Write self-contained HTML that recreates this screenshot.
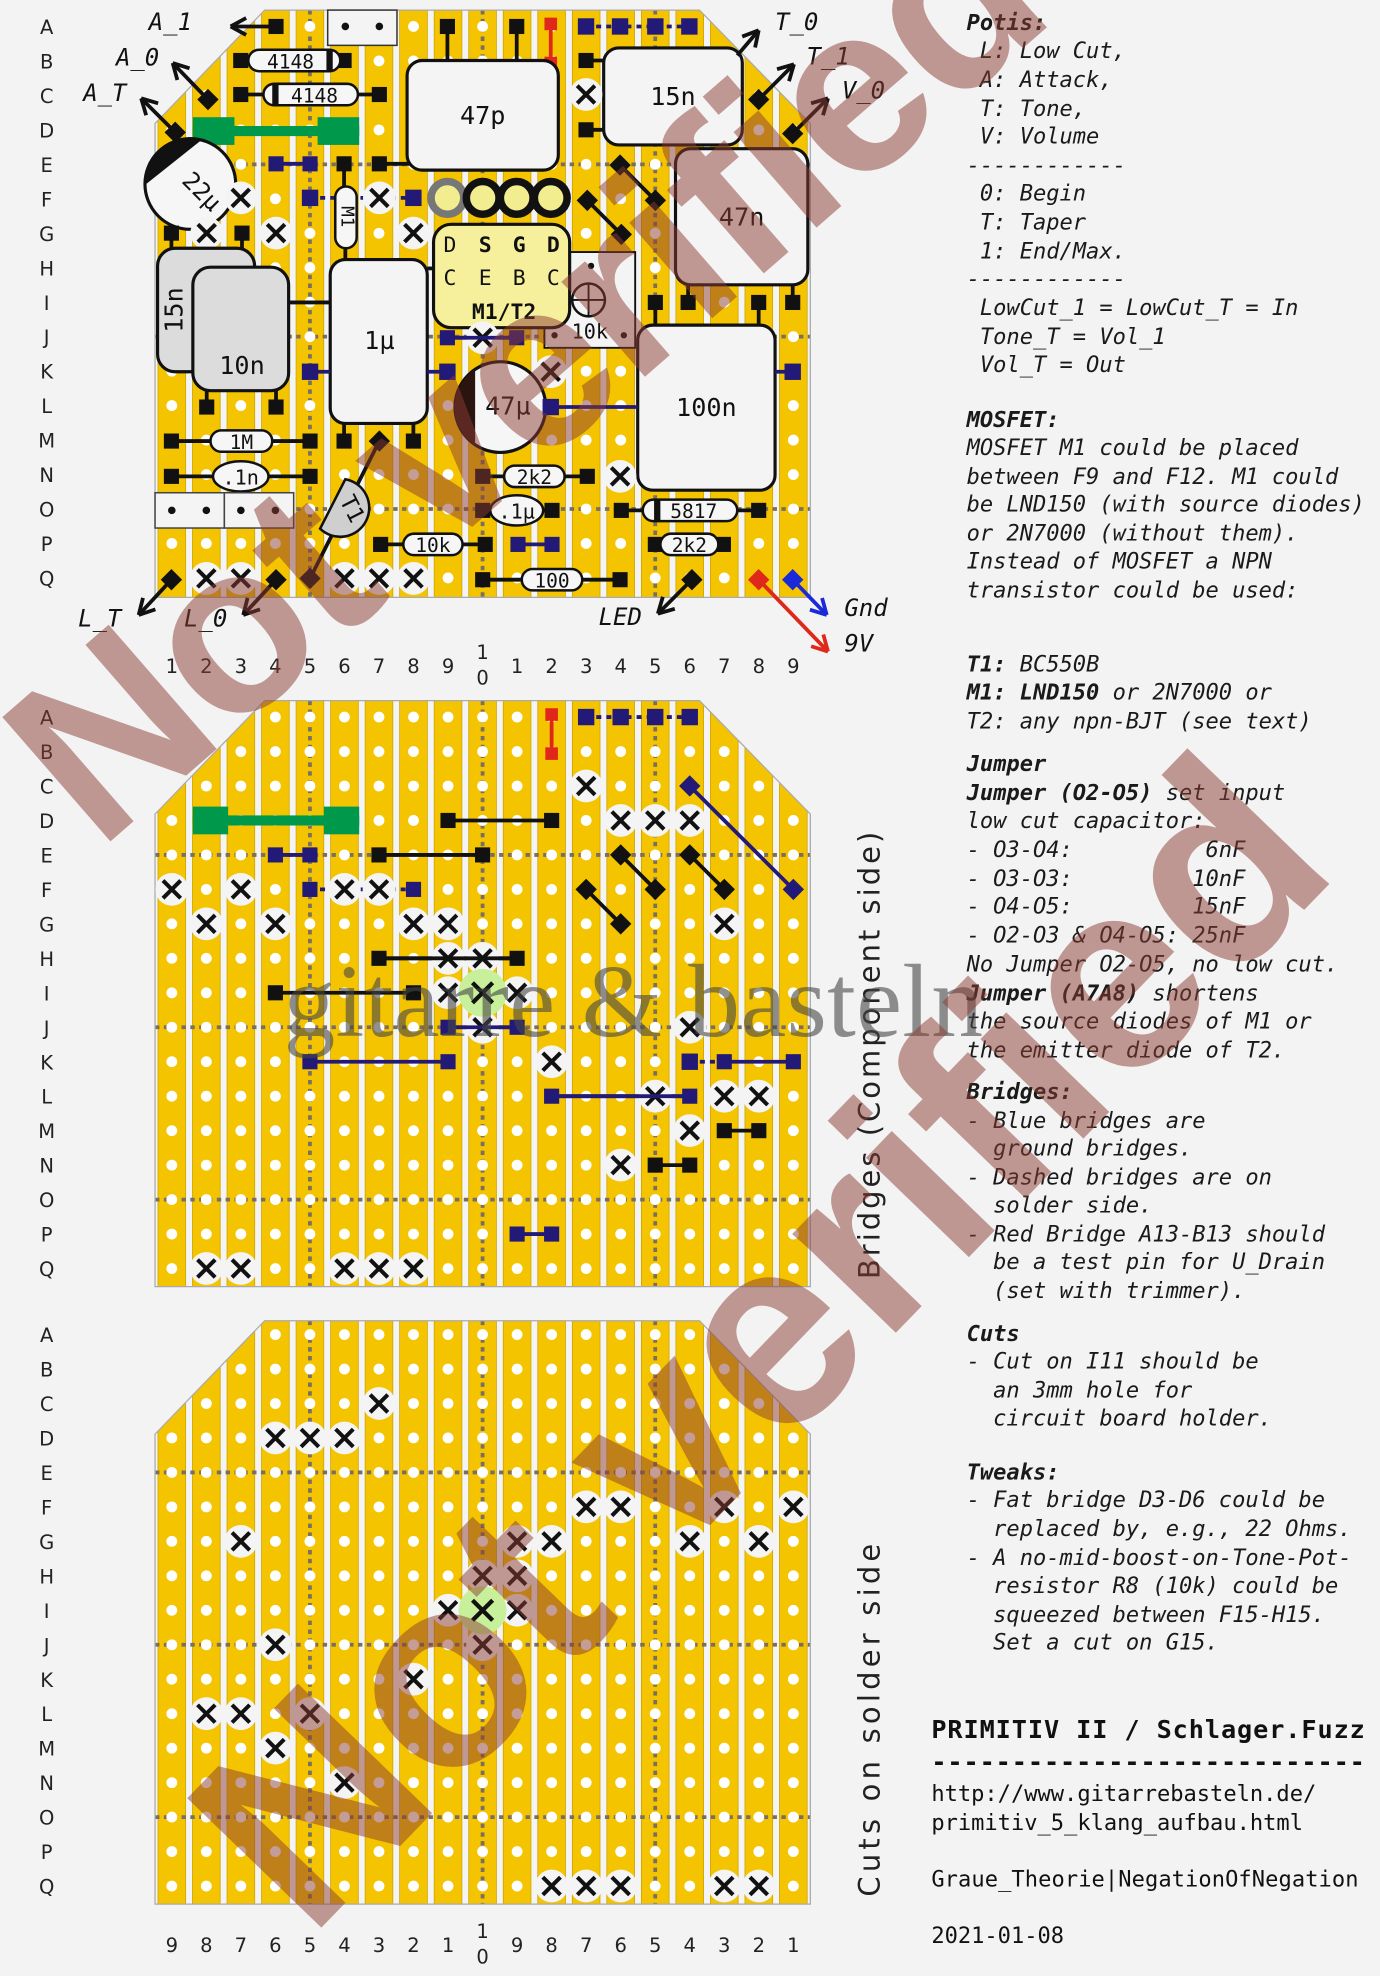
<!DOCTYPE html>
<html><head><meta charset="utf-8"><style>
html,body{margin:0;padding:0;background:#f3f3f3;width:1380px;height:1976px;overflow:hidden;}
svg{display:block;overflow:hidden;}
.t{font-family:"DejaVu Sans Mono","Liberation Mono",monospace;font-style:italic;font-size:17.5px;fill:#1a1a1a;white-space:pre;}
.tb{font-weight:bold;}
.lab{font-family:"DejaVu Sans","Liberation Sans",sans-serif;font-size:15.5px;fill:#222;}
.cl{font-family:"DejaVu Sans Mono","Liberation Mono",monospace;fill:#111;text-anchor:middle;dominant-baseline:central;}
.io{font-family:"DejaVu Sans Mono","Liberation Mono",monospace;font-style:italic;font-size:19px;fill:#111;}
</style></head><body>
<svg id="s" xmlns="http://www.w3.org/2000/svg" width="1380" height="1976" viewBox="0 0 1095 1568">
<defs><clipPath id="page"><rect x="0" y="0" width="1095" height="1568"/></clipPath></defs>
<rect width="1095" height="1568" fill="#f3f3f3"/>
<g id="boards"></g>
<g id="comp"></g>
<g id="txt">
<text class="t" x="767" y="24"><tspan class="tb">Potis:</tspan></text>
<text class="t" x="767" y="46" xml:space="preserve"> L: Low Cut,</text>
<text class="t" x="767" y="69" xml:space="preserve"> A: Attack,</text>
<text class="t" x="767" y="92" xml:space="preserve"> T: Tone,</text>
<text class="t" x="767" y="114" xml:space="preserve"> V: Volume</text>
<text class="t" x="767" y="137">------------</text>
<text class="t" x="767" y="159" xml:space="preserve"> 0: Begin</text>
<text class="t" x="767" y="182" xml:space="preserve"> T: Taper</text>
<text class="t" x="767" y="205" xml:space="preserve"> 1: End/Max.</text>
<text class="t" x="767" y="227">------------</text>
<text class="t" x="767" y="250" xml:space="preserve"> LowCut_1 = LowCut_T = In</text>
<text class="t" x="767" y="273" xml:space="preserve"> Tone_T = Vol_1</text>
<text class="t" x="767" y="295" xml:space="preserve"> Vol_T = Out</text>
<text class="t tb" x="767" y="339">MOSFET:</text>
<text class="t" x="767" y="361">MOSFET M1 could be placed</text>
<text class="t" x="767" y="384">between F9 and F12. M1 could</text>
<text class="t" x="767" y="406">be LND150 (with source diodes)</text>
<text class="t" x="767" y="429">or 2N7000 (without them).</text>
<text class="t" x="767" y="451">Instead of MOSFET a NPN</text>
<text class="t" x="767" y="474">transistor could be used:</text>
<text class="t" x="767" y="533" xml:space="preserve"><tspan class="tb">T1:</tspan> BC550B</text>
<text class="t" x="767" y="555" xml:space="preserve"><tspan class="tb">M1: LND150</tspan> or 2N7000 or</text>
<text class="t" x="767" y="578">T2: any npn-BJT (see text)</text>
<text class="t tb" x="767" y="612">Jumper</text>
<text class="t" x="767" y="635" xml:space="preserve"><tspan class="tb">Jumper (O2-O5)</tspan> set input</text>
<text class="t" x="767" y="657">low cut capacitor:</text>
<text class="t" x="767" y="680" xml:space="preserve">- O3-O4:          6nF</text>
<text class="t" x="767" y="703" xml:space="preserve">- O3-O3:         10nF</text>
<text class="t" x="767" y="725" xml:space="preserve">- O4-O5:         15nF</text>
<text class="t" x="767" y="748" xml:space="preserve">- O2-O3 &amp; O4-O5: 25nF</text>
<text class="t" x="767" y="771">No Jumper O2-O5, no low cut.</text>
<text class="t" x="767" y="794" xml:space="preserve"><tspan class="tb">Jumper (A7A8)</tspan> shortens</text>
<text class="t" x="767" y="816">the source diodes of M1 or</text>
<text class="t" x="767" y="839">the emitter diode of T2.</text>
<text class="t tb" x="767" y="872">Bridges:</text>
<text class="t" x="767" y="895">- Blue bridges are</text>
<text class="t" x="767" y="917" xml:space="preserve">  ground bridges.</text>
<text class="t" x="767" y="940">- Dashed bridges are on</text>
<text class="t" x="767" y="962" xml:space="preserve">  solder side.</text>
<text class="t" x="767" y="985">- Red Bridge A13-B13 should</text>
<text class="t" x="767" y="1007" xml:space="preserve">  be a test pin for U_Drain</text>
<text class="t" x="767" y="1030" xml:space="preserve">  (set with trimmer).</text>
<text class="t tb" x="767" y="1064">Cuts</text>
<text class="t" x="767" y="1086">- Cut on I11 should be</text>
<text class="t" x="767" y="1109" xml:space="preserve">  an 3mm hole for</text>
<text class="t" x="767" y="1131" xml:space="preserve">  circuit board holder.</text>
<text class="t tb" x="767" y="1174">Tweaks:</text>
<text class="t" x="767" y="1196">- Fat bridge D3-D6 could be</text>
<text class="t" x="767" y="1219" xml:space="preserve">  replaced by, e.g., 22 Ohms.</text>
<text class="t" x="767" y="1242">- A no-mid-boost-on-Tone-Pot-</text>
<text class="t" x="767" y="1264" xml:space="preserve">  resistor R8 (10k) could be</text>
<text class="t" x="767" y="1287" xml:space="preserve">  squeezed between F15-H15.</text>
<text class="t" x="767" y="1309" xml:space="preserve">  Set a cut on G15.</text>
<text x="739" y="1379" style="font-family:'DejaVu Sans Mono','Liberation Mono',monospace;font-weight:bold;font-size:20px;fill:#111" textLength="344">PRIMITIV II / Schlager.Fuzz</text>
<text x="739" y="1405" style="font-family:'DejaVu Sans Mono','Liberation Mono',monospace;font-weight:bold;font-size:20px;fill:#111" textLength="344">---------------------------</text>
<text x="739" y="1429" style="font-family:'DejaVu Sans Mono','Liberation Mono',monospace;font-size:17.5px;fill:#111">http://www.gitarrebasteln.de/</text>
<text x="739" y="1452" style="font-family:'DejaVu Sans Mono','Liberation Mono',monospace;font-size:17.5px;fill:#111">primitiv_5_klang_aufbau.html</text>
<text x="739" y="1497" style="font-family:'DejaVu Sans Mono','Liberation Mono',monospace;font-size:17.5px;fill:#111" textLength="339">Graue_Theorie|NegationOfNegation</text>
<text x="739" y="1542" style="font-family:'DejaVu Sans Mono','Liberation Mono',monospace;font-size:17.5px;fill:#111">2021-01-08</text>
<text transform="translate(698,1015) rotate(-90)" style="font-family:'DejaVu Sans','Liberation Sans',sans-serif;font-size:23px;fill:#222" textLength="355">Bridges (Component side)</text>
<text transform="translate(698,1505) rotate(-90)" style="font-family:'DejaVu Sans','Liberation Sans',sans-serif;font-size:23px;fill:#222" textLength="280">Cuts on solder side</text>
</g>
<g id="wm" clip-path="url(#page)"></g>
</svg>
<script>
const NS="http://www.w3.org/2000/svg";
function el(p,tag,a,t){const e=document.createElementNS(NS,tag);for(const k in a)e.setAttribute(k,a[k]);if(t!==undefined)e.textContent=t;p.appendChild(e);return e;}
const BG=document.getElementById('boards'),C=document.getElementById('comp'),WM=document.getElementById('wm');
const X=c=>136.3+(c-1)*27.4;
const BASE=[21,569,1059],TOP=[8,556,1048],BOT=[474,1021,1511];
const RW='ABCDEFGHIJKLMNOPQ';
const Y=(b,r)=>BASE[b]+RW.indexOf(r)*27.35;
for(let b=0;b<3;b++){
  const t=TOP[b],bo=BOT[b];
  const pts=`210,${t} 555,${t} 643,${t+90} 643,${bo} 123,${bo} 123,${t+90}`;
  const cp=el(BG,'clipPath',{id:'cp'+b});el(cp,'polygon',{points:pts});
  const g=el(BG,'g',{'clip-path':`url(#cp${b})`});
  el(g,'rect',{x:120,y:t,width:530,height:bo-t,fill:'#f4f4f4'});
  for(let c=1;c<=19;c++)el(g,'rect',{x:X(c)-11,y:t-2,width:22,height:bo-t+4,fill:'#f5c400',stroke:'#c9a200','stroke-width':0.6});
  for(const r of ['E','J','O'])el(g,'line',{x1:123,x2:643,y1:Y(b,r),y2:Y(b,r),stroke:'#7a6e60','stroke-width':3,'stroke-dasharray':'3.5 3.5'});
  for(const c of [5,10,15])el(g,'line',{x1:X(c),x2:X(c),y1:t,y2:bo,stroke:'#7a6e60','stroke-width':3,'stroke-dasharray':'3.5 3.5'});
  for(let c=1;c<=19;c++)for(let r=0;r<17;r++)el(g,'circle',{cx:X(c),cy:BASE[b]+r*27.35,r:4.3,fill:'#fff'});
  el(BG,'polygon',{points:pts,fill:'none',stroke:'#aaa','stroke-width':1});
  for(let r=0;r<17;r++)el(BG,'text',{class:'lab',x:37,y:BASE[b]+r*27.35+6,'text-anchor':'middle'},RW[r]);
}
function colLabels(y,rev){
  for(let i=1;i<=19;i++){
    let n=rev?20-i:i;
    if(n===10){el(BG,'text',{class:'lab',x:X(i),y:y-5,'text-anchor':'middle'},'1');el(BG,'text',{class:'lab',x:X(i),y:y+15,'text-anchor':'middle'},'0');continue;}
    el(BG,'text',{class:'lab',x:X(i),y:y+6,'text-anchor':'middle'},String(n>10?n-10:n));
  }
}
colLabels(528,false);colLabels(1543,true);
const BK='#111',BL='#231a78',RD='#e0281a';
function pad(x,y,col=BK,s=12){el(C,'rect',{x:x-s/2,y:y-s/2,width:s,height:s,fill:col});}
function dpad(x,y,col=BK){el(C,'rect',{x:x-6,y:y-6,width:12,height:12,fill:col,transform:`rotate(45 ${x} ${y})`});}
function line(x1,y1,x2,y2,col=BK,w=3,d){const a={x1,y1,x2,y2,stroke:col,'stroke-width':w};if(d)a['stroke-dasharray']=d;el(C,'line',a);}
function br(x1,y1,x2,y2,col=BK,d){line(x1,y1,x2,y2,col,3,d);pad(x1,y1,col);pad(x2,y2,col);}
function dbr(x1,y1,x2,y2,col=BK){line(x1,y1,x2,y2,col,3);dpad(x1,y1,col);dpad(x2,y2,col);}
function xm(x,y){el(C,'circle',{cx:x,cy:y,r:13,fill:'#f4f4f4'});line(x-7,y-7,x+7,y+7,BK,3.2);line(x-7,y+7,x+7,y-7,BK,3.2);}
function arrow(x1,y1,x2,y2,col=BK){line(x1,y1,x2,y2,col,3);const a=Math.atan2(y2-y1,x2-x1);for(const d of [0.5,-0.5]){line(x2,y2,x2-14*Math.cos(a+d),y2-14*Math.sin(a+d),col,3);}}
function box(x1,y1,x2,y2,label,fill='#f4f4f4',fs=20,rx=12){el(C,'rect',{x:x1,y:y1,width:x2-x1,height:y2-y1,rx,fill,stroke:BK,'stroke-width':2.5});if(label)el(C,'text',{class:'cl',x:(x1+x2)/2,y:(y1+y2)/2,'font-size':fs},label);}
function res(x1,x2,y,bx1,bx2,label,band){line(x1,y,x2,y);pad(x1,y);pad(x2,y);el(C,'rect',{x:bx1,y:y-8.5,width:bx2-bx1,height:17,rx:8.5,fill:'#f6f6f6',stroke:BK,'stroke-width':2});if(band)el(C,'rect',{x:band,y:y-8.5,width:5,height:17,fill:BK});el(C,'text',{class:'cl',x:(bx1+bx2)/2+(band?(band<(bx1+bx2)/2?3:-3):0),y:y+1,'font-size':15.5},label);}
function cer(x1,x2,y,cx,rx,label){line(x1,y,x2,y);pad(x1,y);pad(x2,y);el(C,'ellipse',{cx,cy:y,rx,ry:12,fill:'#f6f6f6',stroke:BK,'stroke-width':2});el(C,'text',{class:'cl',x:cx,y:y+1,'font-size':16},label);}

el(C,'rect',{x:260,y:8,width:55,height:28,fill:'#f4f4f4',stroke:'#333','stroke-width':1.2});
el(C,'circle',{cx:274,cy:21,r:3,fill:BK});el(C,'circle',{cx:301,cy:21,r:3,fill:BK});
pad(219,21);arrow(219,21,183,21);el(C,'text',{class:'io',x:118,y:24},'A_1');
line(355,21,355,50);pad(355,21);line(410,21,410,50);pad(410,21);
line(437,21,437,48,RD,3);pad(437,19,RD,10);pad(437,50,RD,10);
line(465,21,547,21,BL,3,'4 4');for(const x of [465,492,520,547])pad(x,21,BL,13);
line(465,48,480,48);line(465,103,480,103);pad(465,48);pad(465,103);
box(479,38,589,115,'15n');xm(465,75);
box(323,48,443,135,'47p');
line(301,130,325,130);pad(301,130);
res(191,273,48,197,270,'4148',259);
res(191,301,75,209,284,'4148',216);
dpad(165,79);arrow(165,79,137,50);el(C,'text',{class:'io',x:92,y:52},'A_0');
dpad(139,105);arrow(139,105,112,78);el(C,'text',{class:'io',x:66,y:80},'A_T');
el(C,'rect',{x:153,y:93,width:33,height:22,fill:'#00984a'});el(C,'rect',{x:252,y:93,width:33,height:22,fill:'#00984a'});el(C,'rect',{x:153,y:100,width:132,height:8,fill:'#00984a'});
br(219,130,246,130,BL);
line(273,130,273,150);pad(273,130);
el(C,'circle',{cx:151,cy:146,r:36,fill:'#f6f6f6',stroke:BK,'stroke-width':2.5});
el(C,'path',{d:'M116,146 A36,36 0 0 1 160,111 Z',fill:BK});
el(C,'text',{class:'cl',x:160,y:152,'font-size':19,transform:'rotate(45 160 152)'},'22µ');
line(136,185,136,200);line(192,185,192,200);pad(136,185);pad(192,185);
xm(191,157);xm(164,185);xm(219,185);xm(328,185);
br(246,157,328,157,BL,'4 4');xm(301,157);pad(246,157,BL,13);pad(328,157,BL,13);
line(274,190,274,208);
el(C,'rect',{x:266,y:148,width:17,height:49,rx:8.5,fill:'#f6f6f6',stroke:BK,'stroke-width':2});
el(C,'text',{class:'cl',x:275,y:172,'font-size':14,transform:'rotate(90 275 172)'},'M1');
box(125,197,202,295,null,'#dcdcdc',20,14);
el(C,'text',{class:'cl',x:138,y:246,'font-size':20,transform:'rotate(-90 138 246)'},'15n');
box(153,212,229,310,'','#dcdcdc',20,14);el(C,'text',{class:'cl',x:192,y:290,'font-size':20},'10n');
line(164,310,164,323);line(219,310,219,323);pad(164,323);pad(219,323);
line(229,240,262,240);
line(339,213,345,213);
box(262,206,339,336,'');el(C,'text',{class:'cl',x:301,y:270,'font-size':20},'1µ');
line(246,295,262,295,BL);pad(246,295,BL,13);line(339,295,355,295,BL);pad(355,295,BL,13);
line(273,336,273,350);line(328,336,328,350);pad(273,350);pad(328,350);
el(C,'circle',{cx:355,cy:157,r:13,fill:'#f2ee90',stroke:'#777','stroke-width':6});
for(const x of [383,410,437])el(C,'circle',{cx:x,cy:157,r:13,fill:'#f2ee90',stroke:BK,'stroke-width':6});
el(C,'rect',{x:432,y:200,width:72,height:76,fill:'#f4f4f4',stroke:BK,'stroke-width':1.5});
el(C,'circle',{cx:469,cy:211,r:2.5,fill:BK});
el(C,'circle',{cx:467,cy:238,r:13,fill:'#f4f4f4',stroke:BK,'stroke-width':2});line(454,238,480,238,BK,1.5);line(467,225,467,251,BK,1.5);
el(C,'circle',{cx:440,cy:266,r:2.5,fill:BK});el(C,'circle',{cx:495,cy:266,r:2.5,fill:BK});
el(C,'text',{class:'cl',x:468,y:263,'font-size':16},'10k');
el(C,'rect',{x:344,y:178,width:108,height:82,rx:14,fill:'#f6f09c',stroke:BK,'stroke-width':2.5});
[['D',357,0],['S',385,1],['G',412,1],['D',439,1]].forEach(([t,x,b])=>el(C,'text',{class:'cl',x,y:195,'font-size':17,'font-weight':b?'bold':'normal',fill:b?BK:'#555'},t));
[['C',357],['E',385],['B',412],['C',439]].forEach(([t,x])=>el(C,'text',{class:'cl',x,y:221,'font-size':17,fill:'#555'},t));
el(C,'text',{class:'cl',x:400,y:248,'font-size':17,'font-weight':'bold'},'M1/T2');
dbr(466,159,493,186);dbr(492,131,520,159);
br(355,268,410,268,BL);xm(383,268);line(355,268,410,268,BL,3);
box(536,118,641,226,'47n');
line(546,226,546,240);line(629,226,629,240);pad(546,240);pad(602,240);pad(629,240);pad(520,240);
line(520,240,520,260);line(602,240,602,260);
box(506,258,615,389,'100n');
line(615,295,629,295,BL);pad(629,295,BL,13);
xm(437,295);
el(C,'circle',{cx:397,cy:323,r:36,fill:'#f6f6f6',stroke:BK,'stroke-width':2.5});
el(C,'path',{d:'M377,293 A36,36 0 0 0 377,353 Z',fill:'#2a1410'});
el(C,'text',{class:'cl',x:403,y:322,'font-size':20},'47µ');
line(437,323,506,323,BL);pad(437,323,BL,13);
line(301,350,246,459);dpad(301,350);dpad(246,459);
el(C,'path',{d:'M-9,-22 A23,23 0 1 1 -9,22 Z',fill:'#cfcfcf',stroke:BK,'stroke-width':2,transform:'translate(272,404) rotate(27)'});
el(C,'text',{class:'cl',x:279,y:404,'font-size':18,transform:'rotate(63 279 404)'},'T1');
res(136,246,350,167,216,'1M');
cer(136,246,378,191,22,'.1n');
for(const x0 of [123,178]){el(C,'rect',{x:x0,y:391,width:55,height:28,fill:'#f4f4f4',stroke:'#444','stroke-width':1.2});}
for(let c=1;c<=4;c++)el(C,'circle',{cx:X(c),cy:405,r:3,fill:BK});
res(383,466,378,400,448,'2k2');xm(492,378);
cer(383,438,405,410,21,'.1µ');
res(493,602,405,510,585,'5817',519);
res(302,385,432,320,367,'10k');
br(411,432,438,432,BL);
res(520,574,432,524,570,'2k2');
res(383,492,460,414,462,'100');
dpad(549,460);arrow(549,460,522,487);el(C,'text',{class:'io',x:475,y:496},'LED');
dpad(602,460,RD);arrow(602,460,657,517,RD);
dpad(629,460,'#1a2ad8');arrow(629,460,656,488,'#1a2ad8');
el(C,'text',{class:'io',x:670,y:489},'Gnd');el(C,'text',{class:'io',x:670,y:517},'9V');
dpad(136,460);arrow(136,460,110,488);el(C,'text',{class:'io',x:62,y:497},'L_T');
dpad(219,460);arrow(219,460,193,488);el(C,'text',{class:'io',x:146,y:497},'L_0');
for(const c of [2,3,6,7,8])xm(X(c),459);
arrow(585,44,602,24);el(C,'text',{class:'io',x:615,y:24},'T_0');
dpad(602,79);arrow(602,79,630,51);el(C,'text',{class:'io',x:640,y:51},'T_1');
dpad(629,106);arrow(629,106,657,78);el(C,'text',{class:'io',x:668,y:78},'V_0');

const P=(c,r)=>[X(c),Y(1,r)];
function B2(c1,r1,c2,r2,col,d){const [a,b]=P(c1,r1),[e,f]=P(c2,r2);br(a,b,e,f,col,d);}
function XX(b,list){list.forEach(([c,r])=>xm(X(c),Y(b,r)));}
{const [x,y]=P(12,'A');line(x,y,x,y+27,RD,3);pad(x,y-2,RD,10);pad(x,y+29,RD,10);}
line(X(13),Y(1,'A'),X(16),Y(1,'A'),BL,3,'4 4');for(let c=13;c<=16;c++)pad(X(c),Y(1,'A'),BL,13);
el(C,'rect',{x:153,y:Y(1,'D')-11,width:28,height:22,fill:'#00984a'});el(C,'rect',{x:257,y:Y(1,'D')-11,width:28,height:22,fill:'#00984a'});el(C,'rect',{x:153,y:Y(1,'D')-4,width:132,height:8,fill:'#00984a'});
B2(9,'D',12,'D');
{const [a,b]=P(16,'C'),[e,f]=P(19,'F');dbr(a,b,e,f,BL);}
B2(4,'E',5,'E',BL);B2(7,'E',10,'E');
{let a=P(14,'E'),b=P(15,'F');dbr(...a,...b);a=P(16,'E');b=P(17,'F');dbr(...a,...b);a=P(13,'F');b=P(14,'G');dbr(...a,...b);}
B2(5,'F',8,'F',BL,'4 4');
B2(7,'H',11,'H');B2(4,'I',8,'I');
B2(9,'J',11,'J',BL);B2(5,'K',9,'K',BL);
line(X(16),Y(1,'K'),X(17),Y(1,'K'),BL,3,'4 4');pad(X(16),Y(1,'K'),BL,13);B2(17,'K',19,'K',BL);
B2(12,'L',16,'L',BL);B2(17,'M',18,'M');B2(15,'N',16,'N');B2(11,'P',12,'P',BL);
XX(1,[[13,'C'],[14,'D'],[15,'D'],[16,'D'],[1,'F'],[3,'F'],[6,'F'],[7,'F'],[2,'G'],[4,'G'],[8,'G'],[9,'G'],[17,'G'],[9,'H'],[10,'H'],[9,'I'],[11,'I'],[10,'J'],[16,'J'],[12,'K'],[15,'L'],[17,'L'],[18,'L'],[16,'M'],[14,'N'],[2,'Q'],[3,'Q'],[6,'Q'],[7,'Q'],[8,'Q']]);
{const x=X(10),y=Y(1,'I');el(C,'circle',{cx:x,cy:y,r:19,fill:'#c8f09a'});line(x-8,y-8,x+8,y+8,BK,3.4);line(x-8,y+8,x+8,y-8,BK,3.4);}
line(X(9),Y(1,'J'),X(11),Y(1,'J'),BL,3);line(X(12),Y(1,'L'),X(16),Y(1,'L'),BL,3);
line(X(7),Y(1,'H'),X(11),Y(1,'H'),BK,3);

XX(2,[[7,'C'],[4,'D'],[5,'D'],[6,'D'],[13,'F'],[14,'F'],[17,'F'],[19,'F'],[3,'G'],[11,'G'],[12,'G'],[16,'G'],[18,'G'],[10,'H'],[11,'H'],[9,'I'],[11,'I'],[4,'J'],[10,'J'],[8,'K'],[2,'L'],[3,'L'],[5,'L'],[4,'M'],[6,'N'],[12,'Q'],[13,'Q'],[14,'Q'],[17,'Q'],[18,'Q']]);
{const x=X(10),y=Y(2,'I');el(C,'circle',{cx:x,cy:y,r:19,fill:'#c8f09a'});line(x-8,y-8,x+8,y+8,BK,3.4);line(x-8,y+8,x+8,y-8,BK,3.4);}

el(WM,'text',{x:225,y:822,'font-family':'Liberation Serif, serif','font-size':82,fill:'rgba(70,70,70,0.6)',textLength:555},'gitarre & basteln');
el(WM,'text',{x:0,y:0,transform:'translate(78,676) rotate(-41)','font-family':'Liberation Sans, sans-serif','font-weight':'bold','font-size':190,fill:'rgba(140,60,50,0.5)',textLength:1010},'Not verified');
el(WM,'text',{x:0,y:0,transform:'translate(245,1540) rotate(-46)','font-family':'Liberation Sans, sans-serif','font-weight':'bold','font-size':215,fill:'rgba(140,60,50,0.5)',textLength:1180},'Not verified');
</script>
</body></html>
